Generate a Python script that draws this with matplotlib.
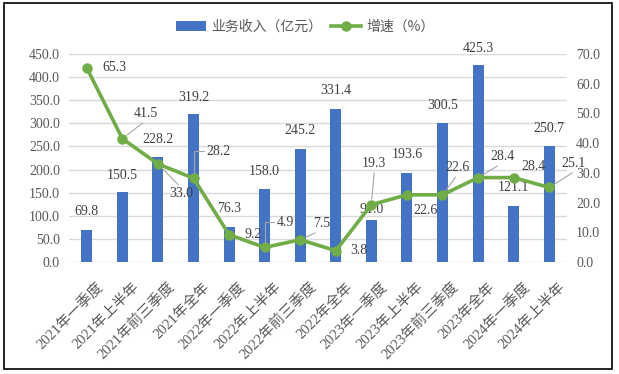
import numpy as np
import matplotlib
matplotlib.use('Agg')
import matplotlib.pyplot as plt
from matplotlib.patches import Rectangle
from matplotlib.transforms import ScaledTranslation

# 数据
periods = ['2021年一季度', '2021年上半年', '2021年前三季度', '2021年全年',
           '2022年一季度', '2022年上半年', '2022年前三季度', '2022年全年',
           '2023年一季度', '2023年上半年', '2023年前三季度', '2023年全年',
           '2024年一季度', '2024年上半年']
revenue = [69.8, 150.5, 228.2, 319.2, 76.3, 158.0, 245.2, 331.4,
           91.0, 193.6, 300.5, 425.3, 121.1, 250.7]
growth = [65.3, 41.5, 33.0, 28.2, 9.2, 4.9, 7.5, 3.8,
          19.3, 22.6, 22.6, 28.4, 28.4, 25.1]

# 标签位置（像素偏移）
bar_lab_dy = [18, 17, 17, 17, 18, 17, 18, 18, 10, 18, 18, 17, 19, 18]
line_lab_off = [(28, 0), (24, 25), (23, -30), (25, 27), (24, 0), (21, 25), (21, 16),
                (23, 0), (3, 41), (19, -16), (15, 27), (24, 21), (20, 11), (24, 24)]
# 引导线: None / 'elbow' / relpos
leader = [None, (0.5, 0), (0.5, 1), 'elbow', None, 'elbow', (0.5, 0),
          None, (0.5, 0), None, (0.5, 0), (0.5, 0), None, (0.65, 0)]

blue = '#4472C4'
green = '#70AD47'
txt_c = '#404040'
tick_c = '#595959'
serif = ['Liberation Serif', 'Noto Sans CJK SC']
cjk = ['Noto Sans CJK SC', 'DejaVu Sans']

fig = plt.figure(figsize=(6.19, 3.74), dpi=100)
ax = fig.add_axes([69 / 619, 112 / 374, 498 / 619, 208 / 374])
ax2 = ax.twinx()

x = np.arange(len(periods))
bars = ax.bar(x, revenue, width=0.31, color=blue, zorder=2, label='业务收入（亿元）')
ln, = ax2.plot(x, growth, color=green, lw=2.6, marker='o', markersize=6.5,
               zorder=3, label='增速（%）')

ax.set_xlim(-0.5, len(periods) - 0.5)
ax.set_ylim(0, 450)
ax2.set_ylim(0, 70)
ax.set_yticks(np.arange(0, 451, 50))
ax2.set_yticks(np.arange(0, 71, 10))
ax.set_yticklabels(['%.1f' % v for v in np.arange(0, 451, 50)])
ax2.set_yticklabels(['%.1f' % v for v in np.arange(0, 71, 10)])
ax.grid(axis='y', color='#d9d9d9', lw=1, zorder=0)
ax.set_axisbelow(True)
for a in (ax, ax2):
    for s in a.spines.values():
        s.set_visible(False)
    a.tick_params(length=0, labelsize=10, labelcolor=tick_c, pad=6.5)
    for lab in a.get_yticklabels():
        lab.set_family(serif)

ax.set_xticks(x)
ax.set_xticklabels(periods, rotation=45, ha='right', va='top',
                   rotation_mode='anchor', fontsize=10.5, family=serif)
ax.tick_params(axis='x', pad=13)
offs = ScaledTranslation(7 / 72, 0, fig.dpi_scale_trans)
for lab in ax.get_xticklabels():
    lab.set_transform(lab.get_transform() + offs)

# 柱子标签
for i, v in enumerate(revenue):
    ax.annotate('%.1f' % v, (x[i], v), xytext=(0, bar_lab_dy[i]),
                textcoords='offset pixels', ha='center', va='center',
                fontsize=10, color=txt_c, family=serif, zorder=5)

# 增速标签
for i, v in enumerate(growth):
    dx, dy = line_lab_off[i]
    kw = {}
    if leader[i] == 'elbow':
        kw['arrowprops'] = dict(arrowstyle='-', color='#a6a6a6', lw=0.8,
                                shrinkA=0, shrinkB=4, relpos=(0, 0.5),
                                connectionstyle='angle,angleA=0,angleB=90,rad=0')
    elif leader[i] is not None:
        kw['arrowprops'] = dict(arrowstyle='-', color='#a6a6a6', lw=0.8,
                                shrinkA=0, shrinkB=4, relpos=leader[i])
    ax2.annotate('%.1f' % v, (x[i], v), xytext=(dx, dy),
                 textcoords='offset pixels', ha='center', va='center',
                 fontsize=10, color=txt_c, family=serif, zorder=5, **kw)

# 图例
leg = fig.legend(handles=[bars, ln], loc='center', bbox_to_anchor=(305 / 619, 1 - 27 / 374),
                 ncol=2, frameon=False, handlelength=2.2, handletextpad=0.35,
                 columnspacing=0.6, prop={'family': cjk, 'size': 10})
for t in leg.get_texts():
    t.set_color(tick_c)

# 外框
fig.patches.append(Rectangle((4 / 619, 5 / 374), 608 / 619, 366 / 374, transform=fig.transFigure,
                             fill=False, edgecolor='black', lw=1.2))

fig.savefig('out.png', dpi=100)
